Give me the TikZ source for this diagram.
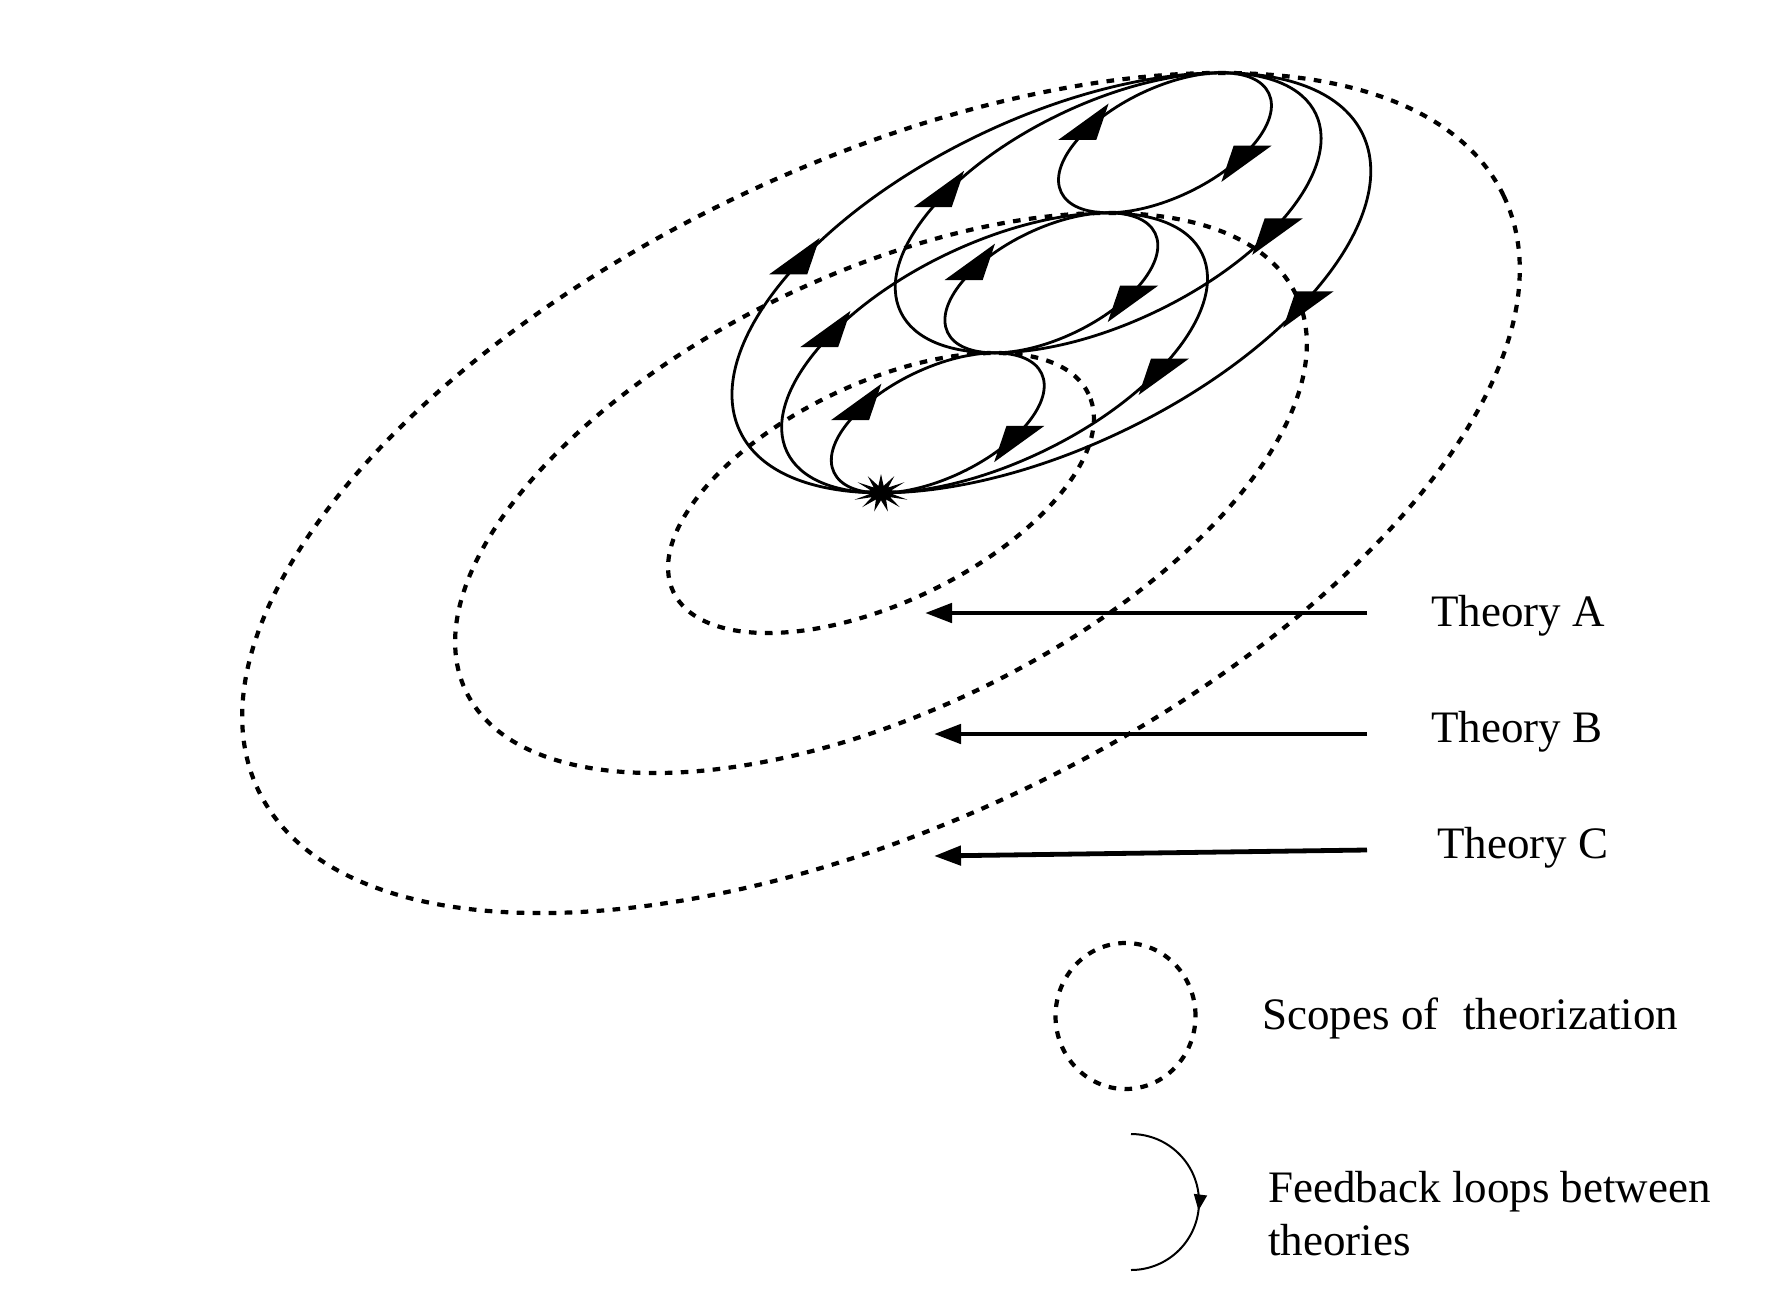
\documentclass[tikz,border=0pt]{standalone}
\usepackage{fontspec}
\setmainfont{Liberation Serif}
\usetikzlibrary{decorations.markings,shapes.geometric,arrows.meta}
\newcommand\hhead{\coordinate (hA) at (-24pt,0pt);\pgftransformresetnontranslations\fill (-9.5pt,0pt) -- (9.5pt,0pt) -- (hA) -- cycle;}
\begin{document}
\begin{tikzpicture}[x=0.5pt,y=0.5pt,
  dotline/.style={line width=2.1pt, dash pattern=on 3.8pt off 4.2pt},
  loopline/.style={line width=1.4pt},
  flow/.style={postaction={decorate}, decoration={markings,
     mark=at position 0.395 with {\hhead},
     mark=at position 0.895 with {\hhead}}},
  lbl/.style={font=\fontsize{22.5}{27}\selectfont, inner sep=0pt, anchor=base west},
  theoarrow/.style={line width=2.4pt, -{Triangle[length=13.5pt,width=9.5pt]}},
]
\useasboundingbox (0,0) rectangle (1768,-1312);
\coordinate (P0) at (881,-493);
\coordinate (P1) at (994.6,-352.9);
\coordinate (P2) at (1108.2,-212.8);
\coordinate (P3) at (1221.8,-72.7);
\coordinate (M01) at (937.8,-422.95);
\coordinate (M12) at (1051.4,-282.85);
\coordinate (M23) at (1165,-142.75);
% scopes of theorization
\draw[dotline, rotate around={25.5:(P0)}] (P0) ellipse [x radius=230, y radius=109.7];
\draw[dotline, rotate around={25.5:(P0)}] (P0) ellipse [x radius=460, y radius=219.4];
\draw[dotline, rotate around={25.5:(P0)}] (P0) ellipse [x radius=690, y radius=329.1];
% feedback loops
\draw[loopline, flow, rotate around={25.5:(M01)}] (M01) ellipse [x radius=115, y radius=54.85];
\draw[loopline, flow, rotate around={25.5:(M12)}] (M12) ellipse [x radius=115, y radius=54.85];
\draw[loopline, flow, rotate around={25.5:(M23)}] (M23) ellipse [x radius=115, y radius=54.85];
\draw[loopline, flow, rotate around={25.5:(P1)}] (P1) ellipse [x radius=230, y radius=109.7];
\draw[loopline, flow, rotate around={25.5:(P2)}] (P2) ellipse [x radius=230, y radius=109.7];
\draw[loopline, flow, rotate around={25.5:(M12)}] (M12) ellipse [x radius=345, y radius=164.55];
\node[star, star points=13, star point ratio=2.6, fill, inner sep=0pt, minimum size=19pt, xscale=1.5, transform shape] (burst) at (P0) {};
% theory labels
\node[lbl] (tA) at (1431,-626) {Theory A};
\node[lbl] (tB) at (1431,-742) {Theory B};
\node[lbl] (tC) at (1437,-858) {Theory C};
\coordinate (a1) at (1367,-613); \coordinate (a2) at (925,-613);
\coordinate (b1) at (1367,-734); \coordinate (b2) at (934,-734);
\coordinate (c1) at (1367,-850); \coordinate (c2) at (934,-856);
\draw[theoarrow] (a1) -- (a2);
\draw[theoarrow] (b1) -- (b2);
\draw[theoarrow] (c1) -- (c2);
% legend
\draw[dotline] (1125.5,-1016) ellipse [x radius=70, y radius=73];
\node[lbl] (lg1) at (1262,-1029) {Scopes of\hspace{0.3em} theorization};
\coordinate (L1) at (1131,-1134);
\draw[line width=1pt, postaction={decorate}, decoration={markings, mark=at position 0.54 with {\arrow{Triangle[length=8pt,width=6.5pt]}}}] (L1) arc[start angle=90, end angle=-90, radius=68];
\node[lbl] (lg2) at (1268,-1202) {Feedback loops between};
\node[lbl] (lg3) at (1268,-1255) {theories};
\end{tikzpicture}
\end{document}
